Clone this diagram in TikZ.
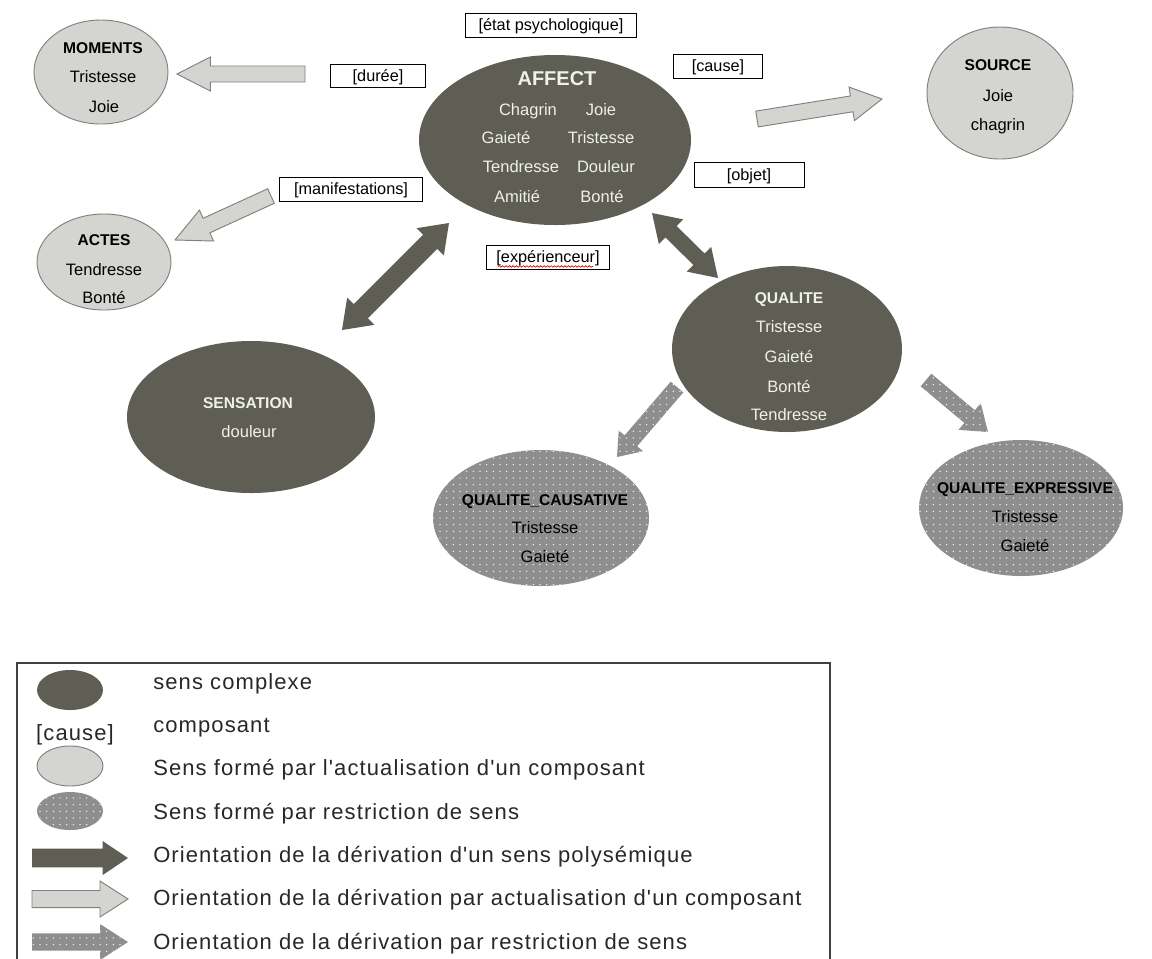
\documentclass[tikz,border=0pt]{standalone}
\usepackage{fontspec}
\setmainfont{Liberation Sans}
\newfontfamily\legfont[LetterSpace=5]{Liberation Sans}
\usetikzlibrary{calc,shapes.geometric,patterns.meta,decorations.pathmorphing}
\definecolor{darkfill}{RGB}{94,94,84}
\definecolor{lightfill}{RGB}{212,212,208}
\definecolor{lightdraw}{RGB}{128,128,128}
\definecolor{dotfill}{RGB}{142,142,142}
\definecolor{paletxt}{RGB}{240,240,236}
\definecolor{legtxt}{RGB}{40,40,40}
\newcommand{\blockarrow}[6]{%
  \coordinate (ba-h) at ($(#3)!#6!(#2)$);
  \path[#1] ($(#2)!#4!90:(#3)$) -- ($(ba-h)!#4!-90:(#2)$) -- ($(ba-h)!#5!-90:(#2)$) -- (#3)
    -- ($(ba-h)!#5!90:(#2)$) -- ($(ba-h)!#4!90:(#2)$) -- ($(#2)!#4!-90:(#3)$) -- cycle;}
\newcommand{\dblarrow}[6]{%
  \coordinate (da-h1) at ($(#3)!#6!(#2)$);
  \coordinate (da-h2) at ($(#2)!#6!(#3)$);
  \path[#1] (#2) -- ($(da-h2)!#5!90:(#3)$) -- ($(da-h2)!#4!90:(#3)$) -- ($(da-h1)!#4!-90:(#2)$)
    -- ($(da-h1)!#5!-90:(#2)$) -- (#3) -- ($(da-h1)!#5!90:(#2)$) -- ($(da-h1)!#4!90:(#2)$)
    -- ($(da-h2)!#4!-90:(#3)$) -- ($(da-h2)!#5!-90:(#3)$) -- cycle;}
\tikzset{
  x=0.75pt, y=-0.75pt,
  ellbase/.style={ellipse, inner sep=0pt, outer sep=0pt},
  darkell/.style={ellbase, fill=darkfill},
  lightell/.style={ellbase, fill=lightfill, draw=lightdraw, line width=0.7pt},
  dotell/.style={ellbase, fill=dotfill, postaction={pattern={Dots[distance=5pt,radius=0.55pt]}, pattern color=white}},
  lab/.style={draw=black, line width=0.7pt, fill=white, inner sep=0pt, font=\fontsize{12.2}{14}\selectfont, text height=8.7pt, text depth=0pt},
  ttl/.style={inner sep=0pt, font=\bfseries\fontsize{11.7}{14}\selectfont, text height=8.4pt, text depth=0pt},
  itm/.style={inner sep=0pt, font=\fontsize{12.4}{14}\selectfont, text height=8.9pt, text depth=0pt},
  ondark/.style={text=paletxt},
  onlight/.style={text=black},
  leg/.style={inner sep=0pt, anchor=west, text=legtxt, font=\legfont\fontsize{16.5}{18}\selectfont, text height=11.8pt, text depth=0pt},
  darkarr/.style={fill=darkfill},
  lightarr/.style={fill=lightfill, draw=lightdraw, line width=0.7pt},
  dotarr/.style={fill=dotfill, postaction={pattern={Dots[distance=5pt,radius=0.55pt]}, pattern color=white}},
}
\begin{document}
\begin{tikzpicture}
\useasboundingbox (0,0) rectangle (1152,958);
\clip (0,0) rectangle (1152,958);
\fill[white] (0,0) rectangle (1152,958);

% ellipses
\node[lightell, minimum width=100.5pt, minimum height=78pt] (mom) at (101,72) {};
\node[lightell, minimum width=100.5pt, minimum height=72pt] (act) at (104,262) {};
\node[darkell, minimum width=204pt, minimum height=127.5pt] (aff) at (555,140) {};
\node[lightell, minimum width=109.5pt, minimum height=99pt] (src) at (1000,93) {};
\node[darkell, minimum width=172.5pt, minimum height=124.5pt] (qual) at (787,349) {};
\node[darkell, minimum width=186pt, minimum height=114pt] (sens) at (251,417) {};
\node[dotell, minimum width=162pt, minimum height=102pt] (qc) at (541,518) {};
\node[dotell, minimum width=153pt, minimum height=102pt] (qe) at (1021,508) {};

% ellipse texts
\node[ttl, onlight] (mom-t) at (103,48) {MOMENTS};
\node[itm, onlight] (mom-1) at (103,77) {Tristesse};
\node[itm, onlight] (mom-2) at (104,107) {Joie};
\node[ttl, onlight] (act-t) at (104,240) {ACTES};
\node[itm, onlight] (act-1) at (104,270) {Tendresse};
\node[itm, onlight] (act-2) at (104,298) {Bonté};
\node[ttl, onlight] (src-t) at (998,65) {SOURCE};
\node[itm, onlight] (src-1) at (998,96) {Joie};
\node[itm, onlight] (src-2) at (998,125) {chagrin};
\node[ttl, ondark, font=\bfseries\fontsize{15}{17}\selectfont, text height=10.8pt] (aff-t) at (557,78) {AFFECT};
\node[itm, ondark] (aff-1) at (528,110) {Chagrin};
\node[itm, ondark] (aff-2) at (601,110) {Joie};
\node[itm, ondark] (aff-3) at (506,138) {Gaieté};
\node[itm, ondark] (aff-4) at (601,138) {Tristesse};
\node[itm, ondark] (aff-5) at (521,167) {Tendresse};
\node[itm, ondark] (aff-6) at (606,167) {Douleur};
\node[itm, ondark] (aff-7) at (517,197) {Amitié};
\node[itm, ondark] (aff-8) at (602,197) {Bonté};
\node[ttl, ondark] (qual-t) at (789,298) {QUALITE};
\node[itm, ondark] (qual-1) at (789,327) {Tristesse};
\node[itm, ondark] (qual-2) at (789,357) {Gaieté};
\node[itm, ondark] (qual-3) at (789,387) {Bonté};
\node[itm, ondark] (qual-4) at (789,415) {Tendresse};
\node[ttl, ondark] (sens-t) at (248,403) {SENSATION};
\node[itm, ondark] (sens-1) at (249,432) {douleur};
\node[ttl, onlight] (qc-t) at (545,500) {QUALITE\_CAUSATIVE};
\node[itm, onlight] (qc-1) at (545,528) {Tristesse};
\node[itm, onlight] (qc-2) at (545,557) {Gaieté};
\node[ttl, onlight] (qe-t) at (1025,488) {QUALITE\_EXPRESSIVE};
\node[itm, onlight] (qe-1) at (1025,517) {Tristesse};
\node[itm, onlight] (qe-2) at (1025,546) {Gaieté};

% component labels
\node[lab, minimum width=128.25pt, minimum height=18pt] (etat) at (551,25) {[état psychologique]};
\node[lab, minimum width=71.25pt, minimum height=17.25pt] (duree) at (378,76) {[durée]};
\node[lab, minimum width=66.75pt, minimum height=18pt] (cause) at (718,66) {[cause]};
\node[lab, minimum width=107.25pt, minimum height=18pt] (manif) at (351,189) {[manifestations]};
\node[lab, minimum width=82.5pt, minimum height=18.75pt] (objet) at (749,175) {[objet]};
\node[lab, minimum width=92.25pt, minimum height=18pt] (exp) at (548,257) {[expérienceur]};
\draw[red!85!black, line width=0.5pt, decorate, decoration={snake, amplitude=0.6pt, segment length=2.6pt}]
  ($(exp.south west)+(12,-3)$) -- ($(exp.south east)+(-17,-3)$);

% arrow end points
\coordinate (d-from) at (305,74);   \coordinate (d-to) at (177,74);
\coordinate (m-from) at (271,196);  \coordinate (m-to) at (175,240);
\coordinate (c-from) at (757,119);  \coordinate (c-to) at (882,99);
\coordinate (as-a) at (449,223);    \coordinate (as-b) at (342,330);
\coordinate (aq-a) at (652,213);    \coordinate (aq-b) at (718,278);
\coordinate (qc-from) at (677,387); \coordinate (qc-to) at (617,457);
\coordinate (qe-from) at (926,380); \coordinate (qe-to) at (988,432);

\blockarrow{lightarr}{d-from}{d-to}{6pt}{12.75pt}{25pt}
\blockarrow{lightarr}{m-from}{m-to}{6pt}{12.75pt}{26pt}
\blockarrow{lightarr}{c-from}{c-to}{6pt}{12.75pt}{23pt}
\dblarrow{darkarr}{as-a}{as-b}{7.5pt}{14.5pt}{20pt}
\dblarrow{darkarr}{aq-a}{aq-b}{6pt}{13pt}{20pt}
\blockarrow{dotarr}{qc-from}{qc-to}{6.2pt}{12pt}{16pt}
\blockarrow{dotarr}{qe-from}{qe-to}{6.2pt}{13pt}{18pt}

% legend
\draw[draw=black!75, line width=1.1pt] (17,975) -- (17,663) -- (830,663) -- (830,975);
\node[darkell, minimum width=49.5pt, minimum height=30pt] (lg-e1) at (70,690) {};
\node[inner sep=0pt, text=legtxt, font=\legfont\fontsize{16.5}{18}\selectfont, text height=11.8pt, text depth=0pt] (lg-c) at (75,733) {[cause]};
\node[lightell, minimum width=49.5pt, minimum height=30pt] (lg-e2) at (70,766) {};
\node[dotell, minimum width=49.5pt, minimum height=28.5pt] (lg-e3) at (70,811) {};
\coordinate (lg-a1f) at (32,858); \coordinate (lg-a1t) at (128,858);
\coordinate (lg-a2f) at (32,899); \coordinate (lg-a2t) at (128,899);
\coordinate (lg-a3f) at (32,942); \coordinate (lg-a3t) at (128,942);
\blockarrow{darkarr}{lg-a1f}{lg-a1t}{7pt}{12.75pt}{19pt}
\blockarrow{lightarr}{lg-a2f}{lg-a2t}{6.4pt}{13.5pt}{21pt}
\blockarrow{dotarr}{lg-a3f}{lg-a3t}{6.4pt}{13.5pt}{21pt}

\node[leg] (lg-t1) at (153,682) {sens complexe};
\node[leg] (lg-t2) at (153,725) {composant};
\node[leg] (lg-t3) at (153,768) {Sens formé par l'actualisation d'un composant};
\node[leg] (lg-t4) at (153,812) {Sens formé par restriction de sens};
\node[leg] (lg-t5) at (153,855) {Orientation de la dérivation d'un sens polysémique};
\node[leg] (lg-t6) at (153,898) {Orientation de la dérivation par actualisation d'un composant};
\node[leg] (lg-t7) at (153,942) {Orientation de la dérivation par restriction de sens};
\end{tikzpicture}
\end{document}
